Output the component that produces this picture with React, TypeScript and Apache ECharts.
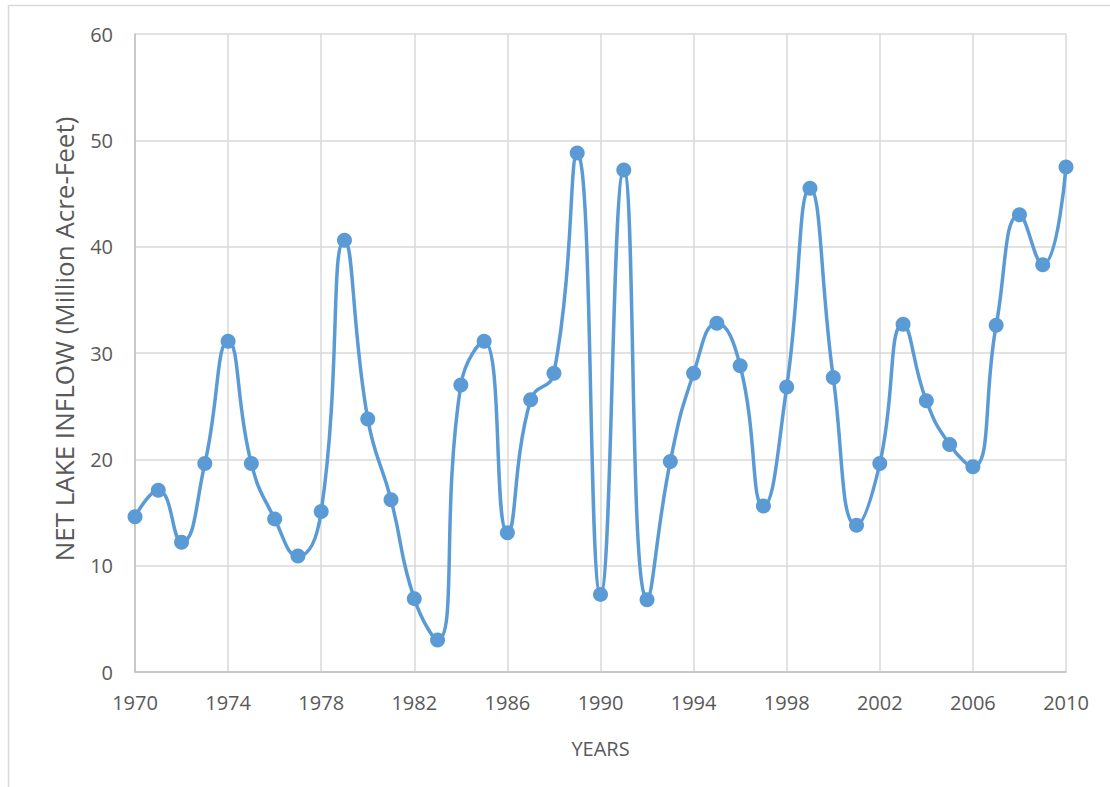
import React, { useEffect, useRef } from 'react';
import * as echarts from 'echarts';

const years: string[] = [];
for (let y = 1970; y <= 2010; y++) years.push(String(y));

const inflow = [
  14.6, 17.1, 12.2, 19.6, 31.1, 19.6, 14.4, 10.9, 15.1, 40.6,
  23.8, 16.2, 6.9, 3.0, 27.0, 31.1, 13.1, 25.6, 28.1, 48.8,
  7.3, 47.2, 6.8, 19.8, 28.1, 32.8, 28.8, 15.6, 26.8, 45.5,
  27.7, 13.8, 19.6, 32.7, 25.5, 21.4, 19.3, 32.6, 43.0, 38.3,
  47.5,
];

const yTicks = { min: 0, max: 60, interval: 10 };

const FONT = '"Open Sans", sans-serif';
const LABEL_COLOR = '#595959';

const App: React.FC = () => {
  const chartRef = useRef<HTMLDivElement>(null);

  useEffect(() => {
    if (!chartRef.current) return;
    const chart = echarts.init(chartRef.current, undefined, { renderer: 'svg' });

    const option: echarts.EChartsOption = {
      animation: false,
      backgroundColor: '#ffffff',
      grid: { left: 135, right: 44, top: 34, bottom: 115 },
      graphic: [
        {
          type: 'rect',
          shape: { x: 8.5, y: 5.5, width: 1300, height: 1000 },
          style: { fill: 'none', stroke: '#d9d9d9', lineWidth: 1.5 },
          silent: true,
          z: -1,
        },
      ] as any,
      xAxis: {
        type: 'category',
        data: years,
        boundaryGap: false,
        name: 'YEARS',
        nameLocation: 'middle',
        nameGap: 66,
        nameTextStyle: { color: LABEL_COLOR, fontSize: 20, fontFamily: FONT },
        axisLine: { lineStyle: { color: '#bfbfbf', width: 1.5 } },
        axisTick: { show: false },
        axisLabel: { interval: 3, color: LABEL_COLOR, fontSize: 20, fontFamily: FONT, margin: 20 },
        splitLine: { show: true, interval: 3, lineStyle: { color: '#d9d9d9', width: 1.5 } },
      },
      yAxis: {
        type: 'value',
        min: yTicks.min,
        max: yTicks.max,
        interval: yTicks.interval,
        name: 'NET LAKE INFLOW (Million Acre-Feet)',
        nameLocation: 'middle',
        nameGap: 58,
        nameTextStyle: {
          color: LABEL_COLOR,
          fontSize: 26,
          fontFamily: FONT,
          padding: [0, 0, 0, 28],
        },
        axisLine: { show: true, lineStyle: { color: '#bfbfbf', width: 1.5 } },
        axisTick: { show: false },
        axisLabel: { color: LABEL_COLOR, fontSize: 20, fontFamily: FONT, margin: 22 },
        splitLine: { show: true, lineStyle: { color: '#d9d9d9', width: 1.5 } },
      },
      series: [
        {
          type: 'line',
          data: inflow,
          smooth: 0.5,
          symbol: 'circle',
          symbolSize: 15,
          lineStyle: { color: '#5b9bd5', width: 3.5 },
          itemStyle: { color: '#5b9bd5' },
        },
      ],
    };

    chart.setOption(option);
    return () => chart.dispose();
  }, []);

  return (
    <div
      ref={chartRef}
      style={{ position: 'fixed', left: 0, top: 0, width: 1110, height: 787 }}
    />
  );
};

export default App;
